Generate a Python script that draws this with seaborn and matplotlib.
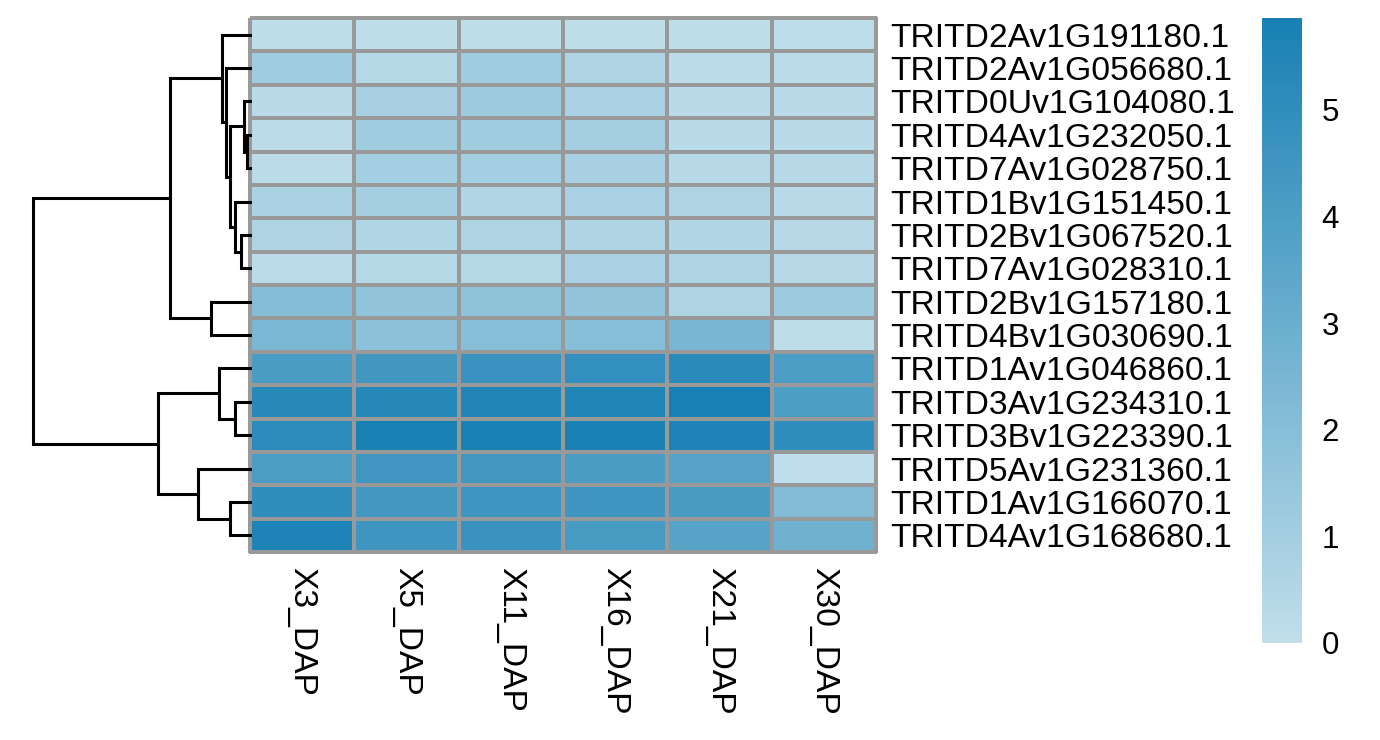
import matplotlib
matplotlib.use("Agg")
import matplotlib.pyplot as plt
from matplotlib.colors import LinearSegmentedColormap
import seaborn as sns
import pandas as pd

# row labels (display order, top to bottom)
genes = [
    "TRITD2Av1G191180.1", "TRITD2Av1G056680.1", "TRITD0Uv1G104080.1",
    "TRITD4Av1G232050.1", "TRITD7Av1G028750.1", "TRITD1Bv1G151450.1",
    "TRITD2Bv1G067520.1", "TRITD7Av1G028310.1", "TRITD2Bv1G157180.1",
    "TRITD4Bv1G030690.1", "TRITD1Av1G046860.1", "TRITD3Av1G234310.1",
    "TRITD3Bv1G223390.1", "TRITD5Av1G231360.1", "TRITD1Av1G166070.1",
    "TRITD4Av1G168680.1",
]
samples = ["X3_DAP", "X5_DAP", "X11_DAP", "X16_DAP", "X21_DAP", "X30_DAP"]

# expression values per sample
x3 = [0.10, 1.10, 0.25, 0.20, 0.20, 0.75, 0.65, 0.20, 2.05, 2.45, 4.10, 5.25, 5.15, 4.05, 5.00, 5.65]
x5 = [0.10, 0.40, 0.85, 1.15, 1.00, 0.95, 0.55, 0.40, 1.65, 1.80, 4.40, 5.35, 5.80, 4.45, 4.35, 4.55]
x11 = [0.10, 1.15, 1.25, 1.10, 1.00, 0.50, 0.65, 0.40, 1.70, 1.95, 4.70, 5.55, 5.80, 4.35, 4.55, 4.65]
x16 = [0.10, 0.60, 0.80, 0.95, 0.85, 0.80, 0.60, 0.80, 1.65, 1.95, 4.90, 5.60, 5.80, 4.10, 4.55, 4.20]
x21 = [0.10, 0.20, 0.25, 0.25, 0.30, 0.65, 0.50, 0.65, 0.65, 2.50, 5.20, 5.86, 5.65, 3.65, 4.15, 3.65]
x30 = [0.15, 0.20, 0.25, 0.25, 0.30, 0.25, 0.30, 0.30, 1.25, 0.10, 4.05, 4.00, 5.00, 0.05, 2.10, 2.80]

# row clustering tree: merges of leaves (0-15) / earlier merges (16+), with heights
merge_left = [3, 2, 6, 5, 17, 1, 0, 8, 22, 11, 10, 14, 13, 26, 24]
merge_right = [4, 16, 7, 18, 19, 20, 21, 9, 23, 12, 25, 15, 27, 28, 29]
merge_height = [3, 6, 9, 15, 20, 24, 28, 39, 80, 15, 31, 20, 52, 92, 217]

cbar_ticks = [0, 1, 2, 3, 4, 5]

df = pd.DataFrame({"X3_DAP": x3, "X5_DAP": x5, "X11_DAP": x11,
                   "X16_DAP": x16, "X21_DAP": x21, "X30_DAP": x30},
                  index=genes)[samples]

plt.rcParams['font.family'] = ['Liberation Sans', 'DejaVu Sans']

cmap = LinearSegmentedColormap.from_list("blues", ["#c0deea", "#1880b4"])

W, H = 1380, 740
fig = plt.figure(figsize=(13.8, 7.4), dpi=100)

hm_ax = fig.add_axes([250 / W, 1 - 552 / H, 626 / W, 534 / H])
den_ax = fig.add_axes([33 / W, 1 - 552 / H, 217 / W, 534 / H])
cb_ax = fig.add_axes([1262 / W, 1 - 643 / H, 40 / W, 625 / H])

sns.heatmap(df, ax=hm_ax, cmap=cmap, vmin=0, vmax=5.86,
            linewidths=1.6, linecolor="#999999",
            cbar_ax=cb_ax, cbar_kws={"ticks": cbar_ticks})
mesh = hm_ax.collections[0]
mesh.set_clip_on(False)

hm_ax.yaxis.tick_right()
hm_ax.set_yticks([i + 0.5 for i in range(len(genes))])
hm_ax.set_yticklabels(genes, rotation=0, fontsize=24.2)
hm_ax.set_xticklabels(samples, rotation=270, fontsize=24.2, va="top")
hm_ax.tick_params(axis="both", length=0)
hm_ax.tick_params(axis="y", pad=10)
hm_ax.tick_params(axis="x", pad=11)
hm_ax.set_xlabel("")
hm_ax.set_ylabel("")

cb_ax.tick_params(length=0, labelsize=22.5, pad=14)
mesh.colorbar.outline.set_visible(False)

# dendrogram
n = len(genes)
pos = {i: (i + 0.5, 0.0) for i in range(n)}
for k, (l, r, h) in enumerate(zip(merge_left, merge_right, merge_height)):
    y1, h1 = pos[l]
    y2, h2 = pos[r]
    den_ax.plot([h1, h, h, h2], [y1, y1, y2, y2], color="black",
                linewidth=2.2, clip_on=False, solid_joinstyle="miter")
    pos[n + k] = ((y1 + y2) / 2, h)
den_ax.set_xlim(max(merge_height), 0)
den_ax.set_ylim(n, 0)
den_ax.axis("off")

fig.savefig("out.png", dpi=100)
